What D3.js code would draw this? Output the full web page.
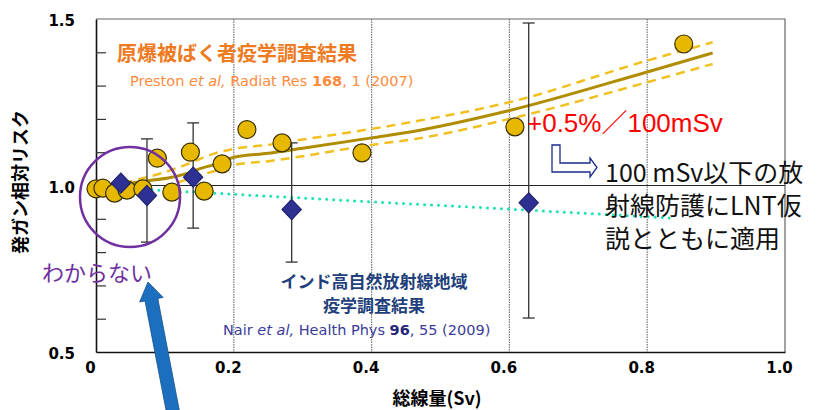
<!DOCTYPE html>
<html>
<head>
<meta charset="utf-8">
<script src="https://cdn.jsdelivr.net/npm/d3@7"></script>
<style>
  body { margin: 0; background: #fff; }
  svg { display: block; }
  text { font-family: "Noto Sans CJK JP", "DejaVu Sans", sans-serif; }
</style>
</head>
<body>
<script>
// atomic bomb survivors (LSS) - yellow circles
var lssDose = [0.0, 0.01, 0.027, 0.045, 0.068, 0.089, 0.11, 0.137, 0.157, 0.183, 0.219, 0.27, 0.386, 0.608, 0.853];
var lssRisk = [0.99, 0.992, 0.977, 0.986, 0.99, 1.082, 0.98, 1.10, 0.983, 1.065, 1.168, 1.128, 1.098, 1.176, 1.425];

// LSS fitted curve and its band
var fitDose = [0, 0.035, 0.07, 0.11, 0.13, 0.15, 0.18, 0.2, 0.25, 0.3, 0.4, 0.47, 0.6, 0.8, 0.895];
var fitRisk = [1.0, 1.003, 1.013, 1.025, 1.035, 1.05, 1.068, 1.085, 1.097, 1.112, 1.143, 1.166, 1.225, 1.341, 1.398];
var upDose = [0.04, 0.1, 0.13, 0.17, 0.2, 0.25, 0.3, 0.4, 0.47, 0.6, 0.8, 0.895];
var upRisk = [1.008, 1.04, 1.062, 1.095, 1.11, 1.122, 1.138, 1.17, 1.195, 1.25, 1.375, 1.43];
var loDose = [0.12, 0.15, 0.18, 0.2, 0.25, 0.3, 0.4, 0.47, 0.6, 0.8, 0.895];
var loRisk = [1.01, 1.03, 1.048, 1.062, 1.073, 1.088, 1.122, 1.142, 1.2, 1.31, 1.365];

// Kerala high background area (Nair) - blue diamonds with 95% CI
var nairDose = [0.036, 0.074, 0.141, 0.284, 0.628];
var nairRisk = [1.007, 0.97, 1.025, 0.928, 0.948];
var nairLow  = [null, 0.83, 0.872, 0.77, 0.602];
var nairHigh = [null, 1.14, 1.188, 1.128, 1.488];

// Nair trend (dotted)
var trendDose = [0, 0.1, 0.25, 0.4, 0.6, 0.835];
var trendRisk = [0.996, 0.985, 0.968, 0.951, 0.929, 0.902];

var xTicks = [0, 0.2, 0.4, 0.6, 0.8, 1.0];
var yTicks = [0.5, 1.0, 1.5];
var yMinor = [0.6, 0.7, 0.8, 0.9, 1.1, 1.2, 1.3, 1.4];

var width = 824, height = 410;

var svg = d3.select('body').append('svg')
    .attr('width', width)
    .attr('height', height);

var x = d3.scaleLinear().domain([0, 1]).range([96, 785]);
var y = d3.scaleLinear().domain([0.5, 1.5]).range([352, 19]);

/* ============================ GRID + FRAME ============================ */
svg.selectAll('.vgrid')
    .data(xTicks.slice(1, 5))
  .enter().append('line')
    .attr('x1', d => x(d)).attr('x2', d => x(d))
    .attr('y1', y(1.5)).attr('y2', y(0.5))
    .style('stroke', '#777')
    .style('stroke-width', 1.2)
    .style('stroke-dasharray', '1.5,1');

svg.append('path')
    .attr('d', 'M' + x(0) + ',' + y(1.5) + 'H' + x(1) + 'V' + y(0.5))
    .style('fill', 'none')
    .style('stroke', '#666')
    .style('stroke-width', 1.2);

svg.append('line')
    .attr('x1', x(0)).attr('x2', x(1))
    .attr('y1', y(1)).attr('y2', y(1))
    .style('stroke', '#222')
    .style('stroke-width', 1);

// axes
var xAxis = svg.append('g')
    .attr('transform', 'translate(0,' + y(0.5) + ')')
    .call(d3.axisBottom(x).tickValues(xTicks).tickSize(0).tickPadding(10)
        .tickFormat(d => d === 0 ? '0' : d3.format('.1f')(d)));
xAxis.select('.domain').style('stroke', '#111').style('stroke-width', 1.6);
xAxis.selectAll('text')
    .attr('dx', -6)
    .style('font-family', '"DejaVu Sans", sans-serif')
    .style('font-weight', 'bold')
    .style('font-size', '15px')
    .style('fill', '#000');

var yAxis = svg.append('g')
    .attr('transform', 'translate(' + x(0) + ',0)')
    .call(d3.axisLeft(y).tickValues(yTicks).tickSize(0).tickPadding(21)
        .tickFormat(d3.format('.1f')));
yAxis.select('.domain').style('stroke', '#111').style('stroke-width', 1.6);
yAxis.selectAll('text')
    .attr('dy', '0.45em')
    .style('font-family', '"DejaVu Sans", sans-serif')
    .style('font-weight', 'bold')
    .style('font-size', '15px')
    .style('fill', '#000');

svg.append('g')
    .attr('transform', 'translate(' + x(0) + ',0)')
    .call(d3.axisRight(y).tickValues(yMinor).tickSize(10).tickFormat(''))
    .call(g => g.select('.domain').remove())
    .selectAll('line').style('stroke', '#333').style('stroke-width', 1.2);

svg.append('text')
    .text('発ガン相対リスク')
    .attr('transform', 'translate(21,182) rotate(-90)')
    .attr('text-anchor', 'middle')
    .attr('dy', '0.35em')
    .style('font-weight', 'bold')
    .style('font-size', '18px');

svg.append('text')
    .text('総線量(Sv)')
    .attr('x', 437).attr('y', 405)
    .attr('text-anchor', 'middle')
    .style('font-weight', 'bold')
    .style('font-size', '18px');

/* ============================ LINES ============================ */
function series(xs, ys) { return xs.map((d, i) => [d, ys[i]]); }

var line = d3.line()
    .x(d => x(d[0]))
    .y(d => y(d[1]))
    .curve(d3.curveMonotoneX);

svg.append('path')
    .attr('d', line(series(trendDose, trendRisk)))
    .style('fill', 'none')
    .style('stroke', '#19e3b0')
    .style('stroke-width', 3)
    .style('stroke-linecap', 'round')
    .style('stroke-dasharray', '0,7');

svg.selectAll('.band')
    .data([series(upDose, upRisk), series(loDose, loRisk)])
  .enter().append('path')
    .attr('d', line)
    .style('fill', 'none')
    .style('stroke', '#f0c020')
    .style('stroke-width', 2.5)
    .style('stroke-dasharray', '9,6');

svg.append('path')
    .attr('d', line(series(fitDose, fitRisk)))
    .style('fill', 'none')
    .style('stroke', '#b08d00')
    .style('stroke-width', 3);

/* ============================ ERROR BARS + POINTS ============================ */
var nair = nairDose.map((d, i) => ({ x: d, y: nairRisk[i], lo: nairLow[i], hi: nairHigh[i] }));
var bars = svg.selectAll('.err')
    .data(nair.filter(d => d.lo !== null))
  .enter().append('g')
    .style('stroke', '#333')
    .style('stroke-width', 1.3);
bars.append('line')
    .attr('x1', d => x(d.x)).attr('x2', d => x(d.x))
    .attr('y1', d => y(d.hi)).attr('y2', d => y(d.lo));
bars.selectAll('.cap')
    .data(d => [[d.x, d.hi], [d.x, d.lo]])
  .enter().append('line')
    .attr('x1', d => x(d[0]) - 6).attr('x2', d => x(d[0]) + 6)
    .attr('y1', d => y(d[1])).attr('y2', d => y(d[1]));

svg.selectAll('.lss')
    .data(series(lssDose, lssRisk))
  .enter().append('circle')
    .attr('cx', d => x(d[0]))
    .attr('cy', d => y(d[1]))
    .attr('r', 9)
    .style('fill', '#e6b800')
    .style('stroke', '#3a3000')
    .style('stroke-width', 1.2);

svg.selectAll('.nair')
    .data(nair)
  .enter().append('path')
    .attr('d', d3.symbol().type(d3.symbolDiamond2).size(240))
    .attr('transform', d => 'translate(' + x(d.x) + ',' + y(d.y) + ') scale(1,1.05)')
    .style('fill', '#2e3192')
    .style('stroke', '#1c1d6a')
    .style('stroke-width', 1);

/* ============================ ANNOTATIONS ============================ */
svg.append('text')
    .text('原爆被ばく者疫学調査結果')
    .attr('x', 117).attr('y', 61)
    .style('font-weight', 'bold')
    .style('font-size', '20px')
    .style('fill', '#ee7a22');

var pr = svg.append('text')
    .attr('x', 130).attr('y', 86)
    .style('font-family', '"DejaVu Sans", sans-serif')
    .style('font-size', '14.5px')
    .style('fill', '#ff8a3c');
pr.append('tspan').text('Preston ');
pr.append('tspan').text('et al,').style('font-style', 'italic');
pr.append('tspan').text(' Radiat Res ');
pr.append('tspan').text('168').style('font-weight', 'bold');
pr.append('tspan').text(', 1 (2007)');

var ind = svg.append('text')
    .attr('text-anchor', 'middle')
    .style('font-weight', 'bold')
    .style('font-size', '17px')
    .style('fill', '#213f7a');
ind.append('tspan').text('インド高自然放射線地域').attr('x', 374).attr('y', 288);
ind.append('tspan').text('疫学調査結果').attr('x', 374).attr('y', 312);

var nr = svg.append('text')
    .attr('x', 223).attr('y', 335)
    .style('font-family', '"DejaVu Sans", sans-serif')
    .style('font-size', '14.5px')
    .style('fill', '#3b3b9c');
nr.append('tspan').text('Nair ');
nr.append('tspan').text('et al,').style('font-style', 'italic');
nr.append('tspan').text(' Health Phys ');
nr.append('tspan').text('96').style('font-weight', 'bold').style('fill', '#25257a');
nr.append('tspan').text(', 55 (2009)');

svg.append('text')
    .text('+0.5%／100mSv')
    .attr('x', 527).attr('y', 132)
    .style('font-family', '"Liberation Sans", "Noto Sans CJK JP", sans-serif')
    .style('font-size', '26px')
    .style('fill', '#ff0000');

// hollow bent arrow
svg.append('path')
    .attr('d', 'M552,145 L560,145 L560,163 L590,163 L590,158 L597,167.5 L590,177 L590,172 L552,172 Z')
    .style('fill', '#fff')
    .style('stroke', '#1a2a8a')
    .style('stroke-width', 1.3);

var note = svg.append('text')
    .style('font-size', '25px')
    .style('fill', '#111');
['100 mSv以下の放', '射線防護にLNT仮', '説とともに適用'].forEach(function(t, i) {
  note.append('tspan').text(t).attr('x', 605).attr('y', 182 + i * 33);
});

svg.append('circle')
    .attr('cx', 130).attr('cy', 197).attr('r', 50)
    .style('fill', 'none')
    .style('stroke', '#7030a0')
    .style('stroke-width', 2.5);

svg.append('text')
    .text('わからない')
    .attr('x', 42).attr('y', 281)
    .style('font-size', '22px')
    .style('fill', '#7030a0');

// thick blue arrow pointing at the label
var tip = [148, 282], tail = [173, 412];
var len = Math.hypot(tail[0] - tip[0], tail[1] - tip[1]);
var ux = (tail[0] - tip[0]) / len, uy = (tail[1] - tip[1]) / len;
var px = -uy, py = ux;
var hl = 18, hw = 12, sw = 6.5;
var pts = [
  tip,
  [tip[0] + ux * hl + px * hw, tip[1] + uy * hl + py * hw],
  [tip[0] + ux * hl + px * sw, tip[1] + uy * hl + py * sw],
  [tail[0] + px * sw, tail[1] + py * sw],
  [tail[0] - px * sw, tail[1] - py * sw],
  [tip[0] + ux * hl - px * sw, tip[1] + uy * hl - py * sw],
  [tip[0] + ux * hl - px * hw, tip[1] + uy * hl - py * hw]
];
svg.append('path')
    .attr('d', 'M' + pts.join('L') + 'Z')
    .style('fill', '#1c6fbe')
    .style('stroke', '#15508a')
    .style('stroke-width', 0.8);
</script>
</body>
</html>
